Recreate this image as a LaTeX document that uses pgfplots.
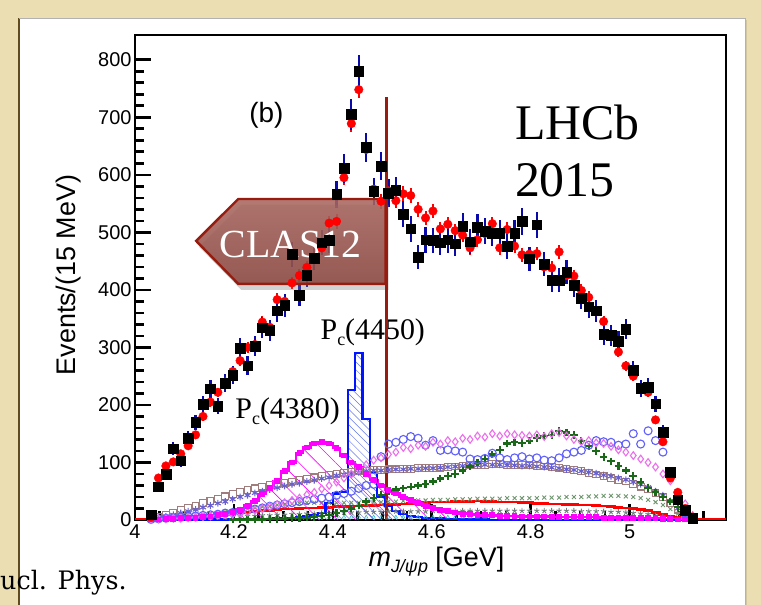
\documentclass[border=0pt]{standalone}
\usepackage{fontspec}
\setmainfont{Liberation Sans}
\newfontfamily\serifA{Liberation Serif}
\newfontfamily\slab{DejaVu Serif}
\usepackage{pgfplots}
\pgfplotsset{compat=1.18}
\usepackage{pgfplotstable}
\usetikzlibrary{patterns,patterns.meta,shadows}

\definecolor{bgbeige}{RGB}{234,222,178}
\definecolor{panelline}{RGB}{95,75,30}
\definecolor{errblue}{RGB}{10,10,170}
\definecolor{pcblue}{RGB}{0,20,255}
\definecolor{hatchblue}{RGB}{100,120,230}
\definecolor{magx}{RGB}{255,0,255}
\definecolor{violetd}{RGB}{236,110,236}
\definecolor{circblue}{RGB}{95,95,250}
\definecolor{dgreen}{RGB}{25,105,25}
\definecolor{bsq}{RGB}{160,125,125}
\definecolor{astp}{RGB}{105,95,205}
\definecolor{xgreen}{RGB}{110,150,110}
\definecolor{stgray}{RGB}{115,125,125}
\definecolor{cyanm}{RGB}{50,190,200}
\definecolor{redx}{RGB}{255,0,0}
\definecolor{clasline}{RGB}{150,28,15}
\definecolor{clastop}{RGB}{168,102,94}
\definecolor{clasbot}{RGB}{140,72,64}

\pgfplotstableread{
m d f p1 p2 di ci gc bs as xx rl st cy
4.0325 9 5 1 0 1 1 nan 3 2 1 1 0 1
4.0475 58 73 1 0 2 2 nan 6 4 2 2 1 1
4.0625 80 94 2 0 2 3 nan 9 6 3 3 1 2
4.0775 124 101 2 0 3 4 nan 13 9 4 4 2 2
4.0925 103 115 3 0 3 5 nan 17 12 5 5 2 2
4.1075 142 129 3 0 4 6 nan 21 15 6 6 3 3
4.1225 170 148 4 0 5 7 nan 25 18 8 7 3 3
4.1375 201 180 5 0 6 8 nan 29 22 9 8 4 3
4.1525 228 205 6 1 7 9 nan 33 25 11 9 4 3
4.1675 198 222 8 1 8 10 nan 37 29 12 10 5 4
4.1825 238 240 10 1 9 12 nan 41 32 14 11 5 4
4.1975 252 258 14 1 10 13 1 45 36 15 12 6 4
4.2125 299 277 18 1 12 15 1 49 40 17 13 6 4
4.2275 268 300 25 2 14 17 1 52 43 19 14 7 4
4.2425 302 305 33 2 17 19 1 55 47 21 15 7 4
4.2575 334 344 45 2 20 21 1 58 50 23 16 8 5
4.2725 330 335 56 2 23 24 2 61 53 24 17 8 5
4.2875 364 383 68 3 27 26 2 63 56 26 18 9 5
4.3025 373 380 85 3 30 28 2 65 59 27 19 9 5
4.3175 462 412 100 4 34 30 3 67 62 28 19 10 5
4.3325 391 425 116 5 38 32 3 70 64 29 20 10 5
4.3475 426 439 126 7 44 34 4 72 67 30 21 11 5
4.3625 455 455 133 9 48 36 5 74 69 30 21 11 5
4.3775 482 473 135 12 54 38 7 76 72 30 22 12 5
4.3925 486 516 133 30 60 40 9 78 74 30 22 12 5
4.4075 566 519 125 46 66 43 12 80 77 30 23 12 5
4.4225 611 595 112 48 73 46 16 82 79 30 23 13 5
4.4375 705 689 100 226 80 50 20 84 81 30 24 13 5
4.4525 780 748 92 290 88 55 25 85 83 30 24 13 5
4.4675 648 644 80 175 96 60 32 86 85 30 25 14 5
4.4825 571 575 70 83 104 62 38 87 86 31 25 14 5
4.4975 615 554 60 40 108 110 44 87 86 31 26 14 5
4.5125 568 572 52 25 114 132 50 88 87 32 27 15 5
4.5275 573 555 46 15 118 135 53 88 88 32 27 15 5
4.5425 532 567 40 10 126 140 55 89 88 33 28 15 5
4.5575 506 564 35 7 124 145 58 89 89 33 29 15 5
4.5725 457 540 30 5 130 142 60 90 89 34 30 15 5
4.5875 487 525 25 4 128 130 63 90 90 34 30 15 5
4.6025 486 537 21 3 135 138 67 90 90 35 31 16 5
4.6175 482 506 18 3 132 121 72 91 91 35 31 16 5
4.6325 487 514 15 2 138 122 77 92 92 35 31 16 5
4.6475 480 503 13 2 136 120 80 93 93 36 32 16 5
4.6625 511 495 11 1 142 118 86 94 94 36 32 16 5
4.6775 484 473 10 1 140 106 93 95 95 36 32 16 5
4.6925 509 487 9 1 146 105 100 96 95 37 33 16 5
4.7075 502 498 8 1 144 107 106 96 96 37 32 16 5
4.7225 499 515 8 0 150 116 114 97 96 37 32 16 5
4.7375 499 473 7 0 146 108 122 97 96 37 31 16 5
4.7525 476 505 7 0 150 105 133 96 95 38 31 16 5
4.7675 499 476 7 0 148 108 135 96 95 38 31 16 5
4.7825 519 461 6 0 147 110 134 95 94 38 30 16 5
4.7975 454 462 6 0 146 106 138 95 94 38 30 16 5
4.8125 513 463 6 0 148 108 143 94 93 38 29 16 5
4.8275 445 440 6 0 145 104 146 93 92 39 29 16 5
4.8425 417 438 5 0 150 103 148 92 91 39 28 16 5
4.8575 417 466 5 0 152 108 155 91 90 39 28 16 5
4.8725 431 425 5 0 146 115 152 89 88 40 27 16 5
4.8875 408 424 5 0 140 118 148 87 87 40 27 16 5
4.9025 386 399 5 0 136 121 138 85 85 40 26 15 5
4.9175 371 387 5 0 138 130 128 82 83 41 26 15 5
4.9325 364 362 5 0 134 138 120 79 81 41 25 15 5
4.9475 323 345 4 0 133 136 110 76 78 42 24 15 4
4.9625 321 318 4 0 128 135 102 73 76 42 23 14 4
4.9775 311 292 4 0 122 130 94 70 73 42 22 14 4
4.9925 332 268 4 0 118 132 86 67 70 41 21 13 4
5.0075 260 250 3 0 112 150 77 63 66 40 20 12 4
5.0225 229 228 3 0 106 132 66 58 62 38 18 11 3
5.0375 231 222 3 0 100 155 56 53 57 35 16 10 3
5.0525 202 174 3 0 92 138 48 47 50 31 13 8 3
5.0675 153 136 2 0 80 118 40 40 43 26 10 6 2
5.0825 83 73 2 0 68 80 32 30 33 19 7 4 2
5.0975 35 48 1 0 48 40 22 18 20 11 4 2 1
5.1125 17 20 1 0 28 12 10 7 8 4 2 1 1
5.1275 3 5 0 0 8 2 2 1 1 1 1 0 0
}\tbl

\begin{document}
\begin{tikzpicture}
\useasboundingbox (-135bp,-85bp) rectangle (626bp,520bp);
\fill[bgbeige] (-135bp,-85bp) rectangle (626bp,520bp);
\fill[black,opacity=0.10] (-114bp,-85bp) rectangle (612bp,500bp);
\fill[white] (-116bp,-85bp) rectangle (610bp,502bp);
\draw[panelline,line width=1.6bp] (-116bp,-85bp) -- (-116bp,502bp);
\draw[black!30,line width=0.6bp] (-116bp,502bp) -- (610bp,502bp) -- (610bp,-85bp);
\node[anchor=base west,inner sep=0pt,font=\slab\fontsize{25.5}{28}\selectfont] at (-135bp,-69bp) {ucl. Phys.};

\begin{axis}[
  at={(0bp,0bp)}, anchor=south west,
  scale only axis, width=591bp, height=485bp,
  xmin=4, xmax=5.195, ymin=0, ymax=843,
  axis line style={line width=2.6bp,black},
  tick align=inside, tick pos=left,
  major tick length=16bp, minor tick length=9bp,
  every tick/.style={line width=2.6bp,black},
  xtick={4,4.2,4.4,4.6,4.8,5},
  xticklabels={4,4.2,4.4,4.6,4.8,5},
  minor xtick={4.05,4.1,4.15,4.25,4.3,4.35,4.45,4.5,4.55,4.65,4.7,4.75,4.85,4.9,4.95,5.05,5.1,5.15},
  ytick={0,100,...,800},
  minor y tick num=4,
  /pgf/number format/assume math mode=true,
  ticklabel style={font=\fontsize{20}{24}\selectfont},
  xticklabel style={yshift=-1bp},
  ylabel={Events/(15 MeV)},
  xlabel={{\itshape m}{\fontsize{18}{20}\selectfont\raisebox{-6bp}{\itshape J/ψp}} [GeV]},
  every axis y label/.style={at={(axis description cs:-0.113,0.505)},rotate=90,anchor=center,font=\fontsize{27}{30}\selectfont},
  every axis x label/.style={at={(axis description cs:0.51,-0.085)},anchor=center,font=\fontsize{27}{30}\selectfont},
]
% background components
\addplot[only marks, mark=triangle, mark size=2bp, color=cyanm, mark options={line width=0.6bp}] table[x=m,y=cy]{\tbl};
\addplot[only marks, mark=star, mark size=2.8bp, color=stgray, mark options={line width=0.9bp}] table[x=m,y=st]{\tbl};
\addplot[only marks, mark=x, mark size=2.8bp, color=xgreen, mark options={line width=0.9bp}] table[x=m,y=xx]{\tbl};
\addplot[const plot mark mid, color=redx, line width=2.6bp, no marks] table[x=m,y=rl]{\tbl};
\addplot[color=redx, line width=2.6bp, no marks] coordinates {(4.0,2) (4.03,2)};
\addplot[color=redx, line width=2.6bp, no marks] coordinates {(5.13,2) (5.195,2)};
\addplot[only marks, mark=square, mark size=3.4bp, color=bsq, mark options={line width=1.1bp}] table[x=m,y=bs]{\tbl};
\addplot[only marks, mark=asterisk, mark size=3.4bp, color=astp, mark options={line width=1.1bp}] table[x=m,y=as]{\tbl};
\addplot[only marks, mark=+, mark size=3.8bp, color=dgreen, mark options={line width=2.2bp}, unbounded coords=discard] table[x=m,y=gc]{\tbl};
\addplot[only marks, mark=o, mark size=4bp, color=circblue, mark options={line width=1.1bp}] table[x=m,y=ci]{\tbl};
\addplot[only marks, mark=diamond, mark size=3.8bp, color=violetd, mark options={line width=1.1bp}] table[x=m,y=di]{\tbl};
% Pc(4380)
\addplot[const plot mark mid, draw=none, pattern={Lines[angle=-45,distance=13bp,line width=0.6bp]}, pattern color=magx] table[x=m,y=p1]{\tbl} \closedcycle;
\addplot[const plot mark mid, color=magx, line width=2.4bp, mark=square*, mark size=1.7bp] table[x=m,y=p1]{\tbl};
% Pc(4450)
\addplot[const plot mark mid, draw=none, pattern={Lines[angle=-45,distance=5.5bp,line width=0.5bp]}, pattern color=hatchblue] table[x=m,y=p2]{\tbl} \closedcycle;
\addplot[const plot mark mid, color=pcblue, line width=2.2bp, no marks] table[x=m,y=p2]{\tbl};
% fit points
\addplot[only marks, mark=*, mark size=4.3bp, color=redx,
  error bars/.cd, y dir=both, y explicit,
  error bar style={line width=2bp,redx}, error mark=none]
  table[x=m,y=f,y error expr={0.55*sqrt(\thisrow{f})}]{\tbl};
% data
\addplot[only marks, mark=square*, mark size=4.8bp, color=black,
  error bars/.cd, y dir=both, y explicit,
  error bar style={line width=2.2bp,errblue}, error mark=none]
  table[x=m,y=d,y error expr={sqrt(\thisrow{d})}]{\tbl};

% annotations
\node[inner sep=0pt,font=\fontsize{28}{32}\selectfont] at (axis cs:4.2656,704) {(b)};
\node[anchor=base west,inner sep=0pt,font=\serifA\fontsize{50}{56}\selectfont] at (axis cs:4.768,661) {LHCb};
\node[anchor=base west,inner sep=0pt,font=\serifA\fontsize{50}{56}\selectfont] at (axis cs:4.768,562) {2015};
\node[anchor=base west,inner sep=0pt,font=\serifA\fontsize{30}{34}\selectfont] at (axis cs:4.375,313) {P{\fontsize{18}{20}\selectfont\raisebox{-6bp}{c}}(4450)};
\node[anchor=base west,inner sep=0pt,font=\serifA\fontsize{30}{34}\selectfont] at (axis cs:4.2027,177) {P{\fontsize{18}{20}\selectfont\raisebox{-6bp}{c}}(4380)};

\path[fill opacity=0.87, top color=clastop, bottom color=clasbot, draw=clasline, line width=2.4bp, draw opacity=1,
  drop shadow={opacity=0.35, shadow xshift=3bp, shadow yshift=-6bp}]
  (axis cs:4.1237,485) -- (axis cs:4.2088,558) -- (axis cs:4.5068,558) -- (axis cs:4.5068,410.4) -- (axis cs:4.2088,410.4) -- cycle;
\node[text=white,inner sep=0pt,font=\serifA\fontsize{40}{44}\selectfont] at (axis cs:4.3142,478) {CLAS12};
\draw[clasline,line width=3.4bp] (axis cs:4.5088,0) -- (axis cs:4.5088,736);
\end{axis}
\end{tikzpicture}
\end{document}
